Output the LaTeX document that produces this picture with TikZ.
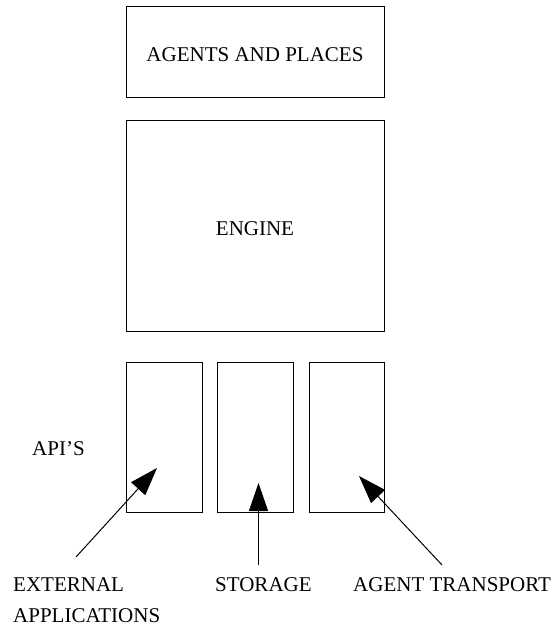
\documentclass[tikz,border=0pt]{standalone}
\usepackage{fontspec}
\setmainfont{Liberation Serif}
\usetikzlibrary{arrows.meta}

\begin{document}
\begin{tikzpicture}[x=1pt, y=-1pt,
  box/.style={draw=black, line width=1pt, rectangle, inner sep=0pt, fill=white},
  lbl/.style={inner sep=0pt, font=\fontsize{21}{31}\selectfont},
  feed/.style={draw=black, line width=1pt, -{Triangle[length=28pt,width=19pt]}}]

  \useasboundingbox[fill=white] (0,0) rectangle (559,626);

  % layered blocks
  \node[box, minimum width=258pt, minimum height=90pt]  (agents) at (255,52)    {};
  \node[box, minimum width=258pt, minimum height=211pt] (engine) at (255,225.5) {};
  \node[lbl, anchor=base] (agentsText) at ([yshift=-10pt]agents.center) {AGENTS AND PLACES};
  \node[lbl, anchor=base] (engineText) at ([yshift=-9.5pt]engine.center) {ENGINE};

  % interface boxes
  \node[box, minimum width=76pt, minimum height=150pt] (extApi)   at (164,437)   {};
  \node[box, minimum width=76pt, minimum height=150pt] (storeApi) at (255,437)   {};
  \node[box, minimum width=75pt, minimum height=150pt] (transApi) at (346.5,437) {};
  \node[lbl, anchor=base west] (apis) at (32,455) {API’S};

  % bottom labels
  \node[lbl, anchor=north west, align=left] (extText) at (13,577.6) {EXTERNAL\\APPLICATIONS};
  \node[lbl, anchor=base west] (storeText) at (215,591) {STORAGE};
  \node[lbl, anchor=base west] (transText) at (353,591) {AGENT TRANSPORT};

  % arrow ends
  \coordinate (extTail)   at (76,557);
  \coordinate (extTip)    at (157,468);
  \coordinate (storeTail) at (258.5,565);
  \coordinate (storeTip)  at (258.5,483);
  \coordinate (transTail) at (442,565);
  \coordinate (transTip)  at (359,476);

  \draw[feed] (extTail)   -- (extTip);
  \draw[feed] (storeTail) -- (storeTip);
  \draw[feed] (transTail) -- (transTip);
\end{tikzpicture}
\end{document}
